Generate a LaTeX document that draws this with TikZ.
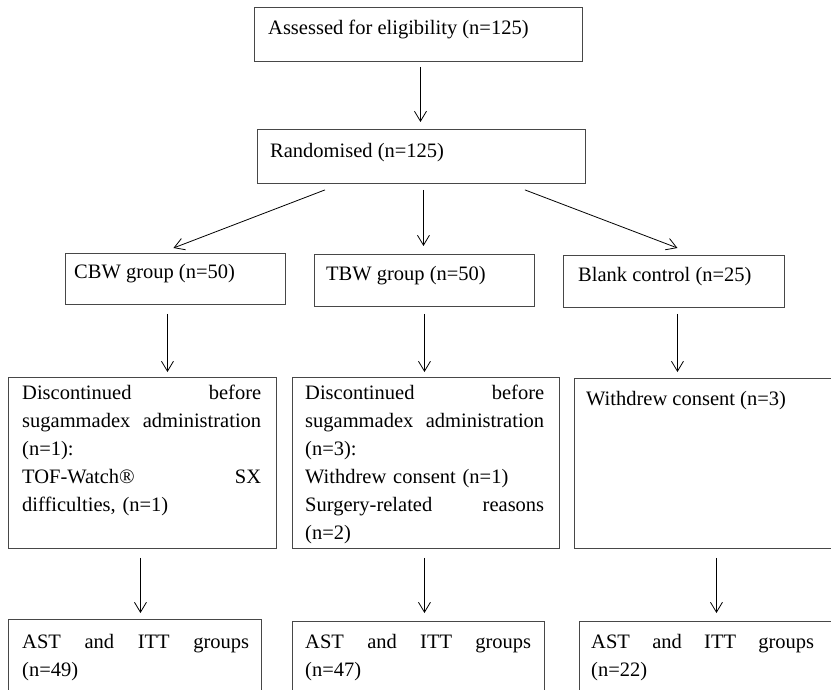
\documentclass[tikz,border=0pt]{standalone}
\usepackage{fontspec}
\setmainfont{Liberation Serif}
\usetikzlibrary{arrows.meta,calc}
\setlength{\parindent}{0pt}
\begin{document}
\begin{tikzpicture}[x=1pt,y=-1pt,
  box/.style={draw=black!72, line width=0.9pt, rectangle, inner sep=0pt, anchor=north west},
  txt/.style={inner sep=0pt, anchor=base west, font=\fontsize{20.5}{28}\selectfont},
  para/.style={inner sep=0pt, anchor=north west, align=left,
    font=\fontsize{20.5}{28}\selectfont},
  arr/.style={draw=black, line width=0.8pt, -{Straight Barb[length=10pt,width=12pt]}}]
\useasboundingbox (0,0) rectangle (831,690);
\clip (0,0) rectangle (831,690);
% boxes
\node[box, minimum width=328pt, minimum height=54pt] (assess) at (254,7) {};
\node[box, minimum width=328pt, minimum height=54pt] (rand) at (257,129) {};
\node[box, minimum width=220pt, minimum height=51pt] (cbw) at (65,253) {};
\node[box, minimum width=220pt, minimum height=52pt] (tbw) at (314,254) {};
\node[box, minimum width=221pt, minimum height=52pt] (blank) at (563,255) {};
\node[box, minimum width=268pt, minimum height=171pt] (d1) at (8,377) {};
\node[box, minimum width=267pt, minimum height=171pt] (d2) at (292,377) {};
\node[box, minimum width=268pt, minimum height=170pt] (d3) at (574,378) {};
\node[box, minimum width=253pt, minimum height=90pt] (a1) at (8,619) {};
\node[box, minimum width=252pt, minimum height=90pt] (a2) at (292,621) {};
\node[box, minimum width=253pt, minimum height=90pt] (a3) at (579,621) {};
% texts
\node[txt] (assessT) at (268,35) {Assessed for eligibility (n=125)};
\node[txt] (randT) at (270,158) {Randomised (n=125)};
\node[txt] (cbwT) at (74,279) {CBW group (n=50)};
\node[txt] (tbwT) at (326,280) {TBW group (n=50)};
\node[txt] (blankT) at (578,281) {Blank control (n=25)};
\node[para, text width=239pt] (d1T) at (22,379.4) {\strut Discontinued\hfill before\\
sugammadex\hfill administration\\
(n=1):\\
TOF-Watch®\hfill SX\\
difficulties, (n=1)};
\node[para, text width=239pt] (d2T) at (305,379.4) {\strut Discontinued\hfill before\\
sugammadex\hfill administration\\
(n=3):\\
Withdrew consent (n=1)\\
Surgery-related\hfill reasons\\
(n=2)};
\node[txt] (d3T) at (586,405) {Withdrew consent (n=3)};
\node[para, text width=227pt] (a1T) at (22,628.4) {\strut AST\hfill and\hfill ITT\hfill groups\\
(n=49)};
\node[para, text width=226pt] (a2T) at (305,628.4) {\strut AST\hfill and\hfill ITT\hfill groups\\
(n=47)};
\node[para, text width=223pt] (a3T) at (591,628.4) {\strut AST\hfill and\hfill ITT\hfill groups\\
(n=22)};
% arrows
\draw[arr] ($(assess.south)+(2,5)$) -- ($(rand.north)+(-1,-7)$);
\draw[arr] ($(rand.south west)+(68,6)$) -- ($(cbw.north)+(-2,-5)$);
\draw[arr] ($(rand.south)+(2,6)$) -- ($(tbw.north)+(-1,-8)$);
\draw[arr] ($(rand.south east)+(-61,6)$) -- ($(blank.north)+(3.5,-7)$);
\draw[arr] ($(cbw.south)+(-8,9)$) -- ($(d1.north)+(25,-5)$);
\draw[arr] ($(tbw.south)+(0,7)$) -- ($(d2.north)+(-1.5,-5)$);
\draw[arr] ($(blank.south)+(3.5,6)$) -- ($(d3.north)+(-31,-6)$);
\draw[arr] ($(d1.south)+(-2,9)$) -- ($(a1.north)+(5.5,-6)$);
\draw[arr] ($(d2.south)+(-1.5,9)$) -- ($(a2.north)+(6,-8)$);
\draw[arr] ($(d3.south)+(8,9)$) -- ($(a3.north)+(10.5,-8)$);
\end{tikzpicture}
\end{document}
